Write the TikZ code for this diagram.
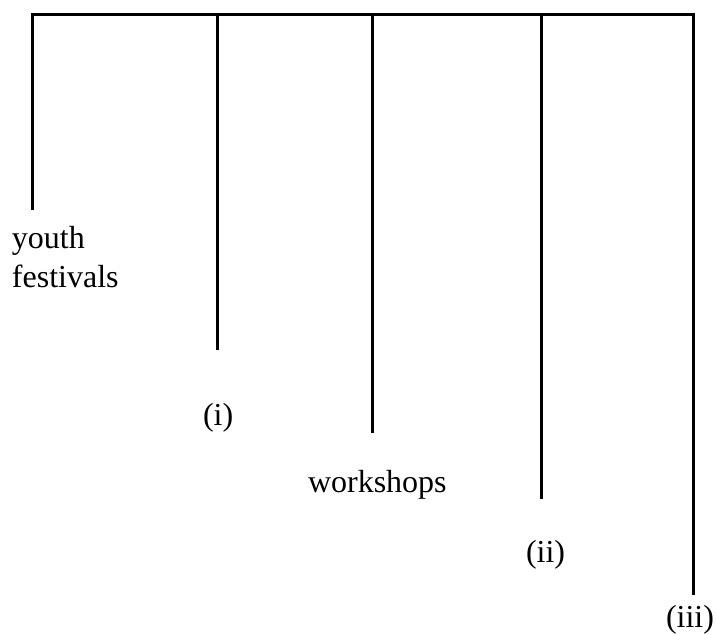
\documentclass[tikz,border=0pt]{standalone}
\usepackage{fontspec}
\setmainfont{Liberation Serif}
\begin{document}
\begin{tikzpicture}[x=1pt,y=-1pt,
  bar/.style={line width=3pt,line cap=rect},
  lbl/.style={inner sep=0pt,outer sep=0pt,anchor=base west,font=\fontsize{32}{39}\selectfont,align=left}]
\useasboundingbox[fill=white] (0,0) rectangle (716,635);
% top bar
\coordinate (L) at (32,14);
\coordinate (R) at (693,14);
\draw[bar] (L) -- (R);
% branch tops and ends
\coordinate (t1) at (32,14);  \coordinate (b1) at (32,210);
\coordinate (t2) at (217,14); \coordinate (b2) at (217,350);
\coordinate (t3) at (372,14); \coordinate (b3) at (372,433);
\coordinate (t4) at (541,14); \coordinate (b4) at (541,499);
\coordinate (t5) at (693,14); \coordinate (b5) at (693,595);
\foreach \i in {1,...,5}{\draw[bar,line cap=butt] (t\i) -- (b\i);}
% labels
\node[lbl] (youth) at (12,287) {youth\\festivals};
\node[lbl] (i) at (203,425) {(i)};
\node[lbl] (ws) at (308,492) {workshops};
\node[lbl] (ii) at (526,562) {(ii)};
\node[lbl] (iii) at (666,627) {(iii)};
\end{tikzpicture}
\end{document}
